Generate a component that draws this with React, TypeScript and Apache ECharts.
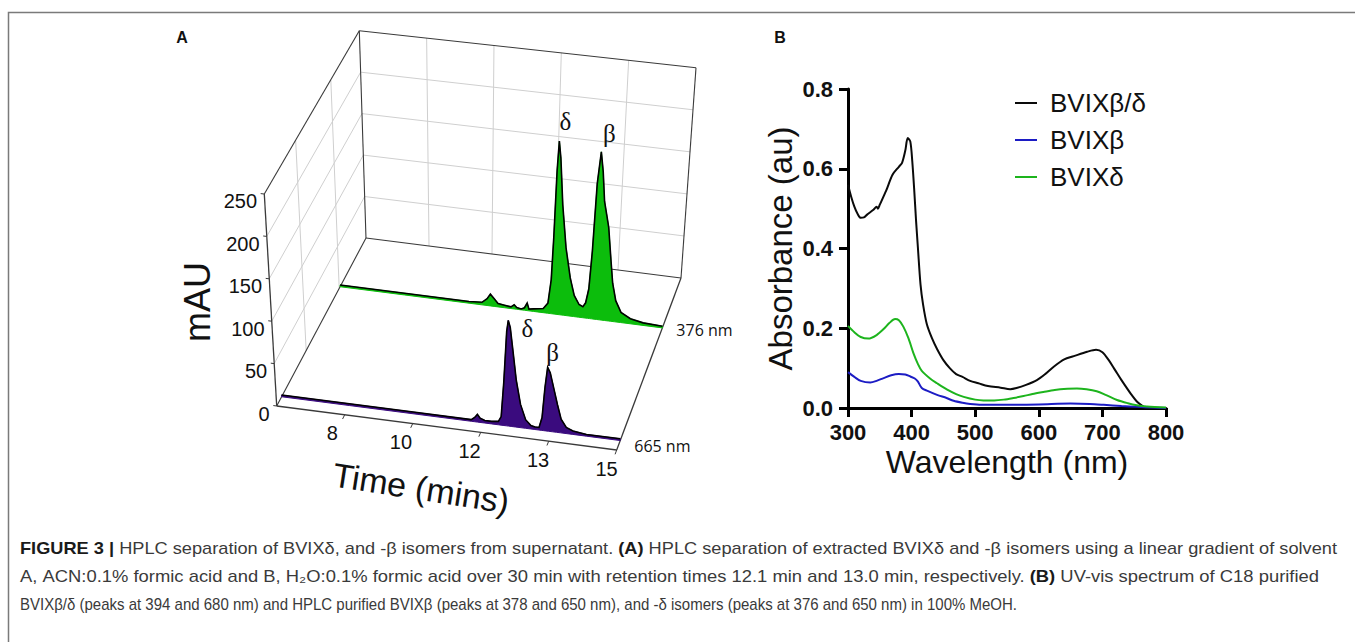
import React, { useEffect, useRef } from "react";
import * as echarts from "echarts";

// ---------------- Panel A : HPLC chromatograms (pseudo-3D) ----------------
const TIME_AXIS_STOPS = [6, 8, 10, 12, 13, 15]; // axis positions 0..5 (corner + labelled ticks)
const TIME_TICK_LABELS = ["8", "10", "12", "13", "15"];
const MAU_TICKS = [0, 50, 100, 150, 200, 250];
const MAU_MAX = 250;
const BACK_GRID_TIME_INDEX = [1, 2, 3, 4];
const LEFT_WALL_DEPTHS = [0.33, 0.7];
const TRACE_LABELS = ["376 nm", "665 nm"];
const TRACE_DEPTHS = [0.71, 0.055];
const TRACE_COLORS = ["#0cbd0c", "#3a0b7e"];

const T376_TIME = [6, 8, 10, 10.4, 10.56, 10.66, 10.78, 10.9, 11.1, 11.3, 11.4, 11.48, 11.62, 11.72, 11.8, 11.86, 12.0, 12.15, 12.22, 12.26, 12.28, 12.3, 12.32, 12.35, 12.4, 12.47, 12.55, 12.62, 12.7, 12.76, 12.8, 12.84, 12.87, 12.9, 12.94, 12.98, 13.04, 13.12, 13.2, 13.32, 13.4, 13.52, 13.7, 14.0, 14.4, 15];
const T376_MAU = [2, 2, 2, 3, 8, 14, 9, 4, 3, 2, 5, 2, 1, 3, 9, 2, 3, 5, 12, 40, 90, 170, 205, 185, 130, 80, 45, 25, 15, 13, 18, 35, 80, 160, 198, 175, 140, 125, 110, 70, 45, 25, 12, 6, 3, 2];
const T665_TIME = [6, 8, 10, 11.6, 11.7, 11.78, 11.86, 12.0, 12.1, 12.2, 12.24, 12.27, 12.3, 12.32, 12.35, 12.4, 12.45, 12.52, 12.6, 12.68, 12.74, 12.8, 12.84, 12.87, 12.9, 12.94, 13.0, 13.12, 13.24, 13.4, 13.6, 14.0, 15];
const T665_MAU = [2, 2, 2, 2, 5, 9, 5, 3, 3, 4, 10, 50, 110, 123, 115, 85, 55, 27, 10, 4, 3, 3, 15, 50, 74, 68, 50, 32, 16, 7, 4, 2, 2];

const PEAK_NAMES = ["δ", "β"];
const PEAKS_376_TIME = [12.32, 12.94];
const PEAKS_376_MAU = [205, 198];
const PEAKS_665_TIME = [12.32, 12.9];
const PEAKS_665_MAU = [123, 74];

// ---------------- Panel B : UV-vis spectra ----------------
const WL_BD = [300, 305, 310, 315, 320, 325, 330, 340, 345, 347, 350, 360, 370, 380, 385, 390, 394, 398, 401, 404, 407, 410, 414, 418, 424, 432, 440, 450, 460, 470, 480, 492, 505, 520, 540, 555, 565, 580, 597, 610, 623, 640, 655, 676, 690, 700, 710, 720, 730, 745, 755, 765, 770, 800];
const ABS_BD = [0.56, 0.53, 0.505, 0.487, 0.477, 0.478, 0.485, 0.497, 0.505, 0.5, 0.51, 0.545, 0.585, 0.605, 0.615, 0.645, 0.677, 0.668, 0.62, 0.55, 0.47, 0.4, 0.31, 0.26, 0.21, 0.175, 0.148, 0.12, 0.1, 0.085, 0.078, 0.068, 0.062, 0.055, 0.051, 0.047, 0.05, 0.058, 0.07, 0.085, 0.103, 0.122, 0.13, 0.141, 0.146, 0.14, 0.12, 0.095, 0.07, 0.035, 0.015, 0.003, 0, 0];
const WL_B = [300, 310, 320, 335, 345, 356, 368, 380, 390, 398, 405, 410, 416, 425, 440, 455, 466, 480, 492, 510, 545, 600, 650, 680, 702, 730, 754, 780, 800];
const ABS_B = [0.09, 0.078, 0.068, 0.064, 0.068, 0.075, 0.082, 0.085, 0.084, 0.079, 0.074, 0.066, 0.05, 0.043, 0.033, 0.025, 0.018, 0.013, 0.01, 0.008, 0.008, 0.009, 0.011, 0.01, 0.008, 0.005, 0.003, 0.001, 0];
const WL_D = [300, 310, 320, 332, 345, 356, 365, 374, 380, 387, 395, 403, 410, 416, 429, 440, 456, 470, 482, 500, 513, 530, 545, 560, 576, 590, 607, 625, 645, 660, 675, 691, 705, 723, 740, 754, 770, 800];
const ABS_D = [0.206, 0.19, 0.178, 0.174, 0.183, 0.198, 0.213, 0.223, 0.22, 0.204, 0.175, 0.137, 0.11, 0.093, 0.074, 0.062, 0.046, 0.035, 0.028, 0.021, 0.019, 0.019, 0.021, 0.025, 0.03, 0.035, 0.04, 0.045, 0.048, 0.049, 0.047, 0.042, 0.033, 0.02, 0.012, 0.007, 0.004, 0.001];
const LEGEND_NAMES = ["BVIXβ/δ", "BVIXβ", "BVIXδ"];
const LINE_COLORS = ["#0a0a0a", "#1c1cc4", "#1db41d"];

// ---------------- Caption ----------------
const CAPTION_LINES: { t: string; b?: boolean }[][] = [
  [
    { t: "FIGURE 3 |", b: true },
    { t: "HPLC separation of BVIXδ, and -β isomers from supernatant." },
    { t: "(A)", b: true },
    { t: "HPLC separation of extracted BVIXδ and -β isomers using a linear gradient of solvent" },
  ],
  [
    { t: "A, ACN:0.1% formic acid and B, H₂O:0.1% formic acid over 30 min with retention times 12.1 min and 13.0 min, respectively." },
    { t: "(B)", b: true },
    { t: "UV-vis spectrum of C18 purified" },
  ],
  [{ t: "BVIXβ/δ (peaks at 394 and 680 nm) and HPLC purified BVIXβ (peaks at 378 and 650 nm), and -δ isomers (peaks at 376 and 650 nm) in 100% MeOH." }],
];
const CAPTION_RIGHT = [1337, 1319, 1017];

// ---------------- layout of the 3D box (screen corners) ----------------
const A_FLOOR = { f0: [276.7, 406], f1: [616.7, 450], b0: [366, 238], b1: [681, 278] };
const A_VERT = { f0: [-12.4, -212], f1: [11.5, -216], b0: [-6.7, -207.3], b1: [15, -210.3] };
const U_MAX = TIME_AXIS_STOPS.length - 1;

function timeToU(t: number) {
  const s = TIME_AXIS_STOPS;
  if (t <= s[0]) return (t - s[0]) / (s[1] - s[0]);
  for (let i = 0; i < s.length - 1; i++) {
    if (t <= s[i + 1]) return i + (t - s[i]) / (s[i + 1] - s[i]);
  }
  const n = s.length - 1;
  return n + (t - s[n]) / (s[n] - s[n - 1]);
}
function lerp2(a: number[], b: number[], t: number) {
  return [a[0] + (b[0] - a[0]) * t, a[1] + (b[1] - a[1]) * t];
}
function bil(c: any, fu: number, v: number) {
  return lerp2(lerp2(c.f0, c.f1, fu), lerp2(c.b0, c.b1, fu), v);
}
function project(u: number, v: number, h: number) {
  const fu = u / U_MAX;
  const fl = bil(A_FLOOR, fu, v);
  const vt = bil(A_VERT, fu, v);
  const k = h / MAU_MAX;
  return [fl[0] + vt[0] * k, fl[1] + vt[1] * k];
}
function seg(p: number[], q: number[], stroke: string, lw: number) {
  return { type: "line", shape: { x1: p[0], y1: p[1], x2: q[0], y2: q[1] }, style: { stroke, lineWidth: lw } };
}

const GRID_GREY = "#cfcfcf";
const EDGE = "#3a3a3a";
const SANS = "'Liberation Sans', Arial, sans-serif";

function traceSeries(idx: number, times: number[], maus: number[]) {
  const depth = TRACE_DEPTHS[idx];
  return {
    type: "custom",
    coordinateSystem: "none",
    silent: true,
    data: times.map((t, i) => [t, maus[i]]),
    renderItem: (params: any, api: any) => {
      if (params.dataIndexInside !== 0) return null;
      const n = params.dataInsideLength ?? times.length;
      const top: number[][] = [];
      const base: number[][] = [];
      for (let i = 0; i < n; i++) {
        const u = timeToU(api.value(0, i));
        top.push(project(u, depth, api.value(1, i)));
        base.push(project(u, depth, 0));
      }
      const poly = top.concat(base.slice().reverse());
      const last = base[base.length - 1];
      return {
        type: "group",
        children: [
          { type: "polygon", shape: { points: poly }, style: { fill: TRACE_COLORS[idx], stroke: TRACE_COLORS[idx], lineWidth: 1 } },
          { type: "polyline", shape: { points: top }, style: { stroke: "#000", lineWidth: 1.6, fill: null } },
          {
            type: "text",
            style: {
              text: TRACE_LABELS[idx],
              x: last[0] + 14,
              y: last[1] + (idx === 0 ? 2 : 5),
              fill: "#111",
              fontSize: 16,
              fontFamily: "'Open Sans', sans-serif",
              align: "left",
              verticalAlign: "middle",
            },
          },
        ],
      };
    },
  };
}

function peakSeries(idx: number, times: number[], maus: number[], offsets: number[][]) {
  const depth = TRACE_DEPTHS[idx];
  return {
    type: "custom",
    coordinateSystem: "none",
    silent: true,
    data: times.map((t, i) => [t, maus[i]]),
    renderItem: (params: any, api: any) => {
      const i = params.dataIndexInside;
      const p = project(timeToU(api.value(0)), depth, api.value(1));
      return {
        type: "text",
        style: {
          text: PEAK_NAMES[i],
          x: p[0] + offsets[i][0],
          y: p[1] + offsets[i][1],
          fill: "#111",
          fontSize: 25,
          fontFamily: "'Liberation Serif', 'Times New Roman', serif",
          align: "center",
          verticalAlign: "middle",
        },
      };
    },
  };
}

// one text element per word; each line is fitted to its measured extent in the reference
function buildCaption(size: number) {
  const ctx = document.createElement("canvas").getContext("2d")!;
  const measure = (s: string, bold?: boolean) => {
    ctx.font = `${bold ? "bold " : ""}${size}px 'Liberation Sans', Arial, sans-serif`;
    return ctx.measureText(s).width;
  };
  const spaceW = measure(" ");
  const els: any[] = [];
  CAPTION_LINES.forEach((parts, li) => {
    const words: { w: string; b?: boolean; width: number }[] = [];
    parts.forEach((p) =>
      p.t
        .split(" ")
        .filter((x) => x.length)
        .forEach((w) => words.push({ w, b: p.b, width: measure(w, p.b) }))
    );
    const natural = words.reduce((a, w) => a + w.width, 0) + spaceW * (words.length - 1);
    const s = (CAPTION_RIGHT[li] - 20) / natural;
    let x = 20;
    words.forEach((w) => {
      els.push({
        type: "text",
        x,
        y: 548 + li * 28,
        scaleX: s,
        silent: true,
        style: {
          text: w.w,
          fontSize: size,
          fontWeight: w.b ? "bold" : "normal",
          fontFamily: SANS,
          fill: w.b ? "#1a1a1a" : "#3a3a3a",
          verticalAlign: "middle",
          textVerticalAlign: "middle",
        },
      });
      x += (w.width + spaceW) * s;
    });
  });
  return els;
}

export default function App() {
  const ref = useRef<HTMLDivElement>(null);
  useEffect(() => {
    if (!ref.current) return;
    const chart = echarts.init(ref.current, undefined, { renderer: "svg" });

    const captionEls = buildCaption(16);

    const option: any = {
      animation: false,
      backgroundColor: "#ffffff",
      grid: { left: 848, top: 89, width: 318, height: 319, containLabel: false },
      xAxis: {
        type: "value",
        min: 300,
        max: 800,
        interval: 100,
        name: "Wavelength (nm)",
        nameLocation: "middle",
        nameGap: 38,
        nameTextStyle: { fontSize: 32, fontFamily: SANS, color: "#111" },
        axisLine: { show: true, onZero: false, lineStyle: { color: "#000", width: 3 } },
        axisTick: { show: true, length: 9, lineStyle: { color: "#000", width: 3 } },
        axisLabel: { fontSize: 22, fontWeight: "bold", fontFamily: SANS, color: "#111", margin: 13 },
        splitLine: { show: false },
      },
      yAxis: {
        type: "value",
        min: 0,
        max: 0.8,
        interval: 0.2,
        name: "Absorbance (au)",
        nameLocation: "middle",
        nameGap: 51,
        nameTextStyle: { fontSize: 33, fontFamily: SANS, color: "#111" },
        axisLine: { show: true, onZero: false, lineStyle: { color: "#000", width: 3 } },
        axisTick: { show: true, length: 9, lineStyle: { color: "#000", width: 3 } },
        axisLabel: {
          fontSize: 22,
          fontWeight: "bold",
          fontFamily: SANS,
          color: "#111",
          margin: 15,
          formatter: (v: number) => v.toFixed(1),
        },
        splitLine: { show: false },
      },
      legend: {
        data: LEGEND_NAMES,
        orient: "vertical",
        left: 1010,
        top: 83,
        itemWidth: 22,
        itemHeight: 2,
        itemGap: 7,
        icon: "rect",
        textStyle: { fontSize: 26, fontFamily: SANS, color: "#111", lineHeight: 30, padding: [0, 0, 0, 8] },
      },
      graphic: [
        { type: "polyline", silent: true, shape: { points: [[8.5, 642], [8.5, 12.5], [1355, 12.5]] }, style: { stroke: "#7a7a7a", lineWidth: 1.5, fill: null } },
        { type: "text", x: 182, y: 37, silent: true, style: { text: "A", fontSize: 16, fontWeight: "bold", fontFamily: SANS, fill: "#111", align: "center", verticalAlign: "middle", textAlign: "center", textVerticalAlign: "middle" } },
        { type: "text", x: 780, y: 37, silent: true, style: { text: "B", fontSize: 16, fontWeight: "bold", fontFamily: SANS, fill: "#111", align: "center", verticalAlign: "middle", textAlign: "center", textVerticalAlign: "middle" } },
        { type: "text", x: 197, y: 302, rotation: Math.PI / 2, silent: true, style: { text: "mAU", fontSize: 36, fontFamily: SANS, fill: "#111", align: "center", verticalAlign: "middle", textAlign: "center", textVerticalAlign: "middle" } },
        { type: "text", x: 421, y: 488, rotation: -0.155, silent: true, style: { text: "Time (mins)", fontSize: 34, fontFamily: SANS, fill: "#111", align: "center", verticalAlign: "middle", textAlign: "center", textVerticalAlign: "middle" } },
        ...captionEls,
      ],
      series: [
        {
          type: "custom",
          coordinateSystem: "none",
          silent: true,
          data: BACK_GRID_TIME_INDEX.map((u) => [u]),
          renderItem: (_p: any, api: any) => {
            const u = api.value(0);
            return seg(project(u, 1, 0), project(u, 1, MAU_MAX), GRID_GREY, 1);
          },
        },
        {
          type: "custom",
          coordinateSystem: "none",
          silent: true,
          data: LEFT_WALL_DEPTHS.map((v) => [v]),
          renderItem: (_p: any, api: any) => {
            const v = api.value(0);
            return seg(project(0, v, 0), project(0, v, MAU_MAX), GRID_GREY, 1);
          },
        },
        {
          type: "custom",
          coordinateSystem: "none",
          silent: true,
          data: MAU_TICKS.map((h) => [h]),
          renderItem: (_p: any, api: any) => {
            const h = api.value(0);
            const children: any[] = [];
            if (h > 0 && h < MAU_MAX) {
              children.push(seg(project(0, 1, h), project(U_MAX, 1, h), GRID_GREY, 1));
              children.push(seg(project(0, 0, h), project(0, 1, h), GRID_GREY, 1));
            }
            children.push(seg(project(0, 0, h), project(-0.05, 0, h), EDGE, 1));
            const lp = project(0, -0.045, h);
            children.push({
              type: "text",
              style: { text: String(h), x: lp[0] - 3, y: lp[1], fill: "#111", fontSize: 20, fontFamily: SANS, align: "right", verticalAlign: "middle" },
            });
            return { type: "group", children };
          },
        },
        {
          type: "custom",
          coordinateSystem: "none",
          silent: true,
          data: [[0]],
          renderItem: () => {
            const F0 = project(0, 0, 0), F5 = project(U_MAX, 0, 0), B0 = project(0, 1, 0), B5 = project(U_MAX, 1, 0);
            const FT0 = project(0, 0, MAU_MAX), BT0 = project(0, 1, MAU_MAX), BT5 = project(U_MAX, 1, MAU_MAX);
            return {
              type: "group",
              children: [
                seg(B0, B5, EDGE, 1.1),
                seg(BT0, B0, EDGE, 1.1),
                seg(BT5, B5, EDGE, 1.1),
                seg(BT0, BT5, EDGE, 1.1),
                seg(FT0, BT0, EDGE, 1.1),
                seg(F0, B0, EDGE, 1.1),
                seg(F5, B5, EDGE, 1.3),
                seg(F0, F5, EDGE, 1.3),
                seg(F0, FT0, EDGE, 1.3),
              ],
            };
          },
        },
        {
          type: "custom",
          coordinateSystem: "none",
          silent: true,
          data: TIME_TICK_LABELS.map((_l, i) => [i + 1]),
          renderItem: (p: any, api: any) => {
            const u = api.value(0);
            const a = project(u, 0, 0);
            const b = project(u, -0.025, 0);
            const lp = project(u, -0.11, 0);
            return {
              type: "group",
              children: [
                seg(a, b, EDGE, 1),
                {
                  type: "text",
                  style: { text: TIME_TICK_LABELS[p.dataIndexInside], x: lp[0] - 3, y: lp[1], fill: "#111", fontSize: 20, fontFamily: SANS, align: "center", verticalAlign: "middle" },
                },
              ],
            };
          },
        },
        traceSeries(0, T376_TIME, T376_MAU),
        traceSeries(1, T665_TIME, T665_MAU),
        peakSeries(0, PEAKS_376_TIME, PEAKS_376_MAU, [[6, -20], [8, -18]]),
        peakSeries(1, PEAKS_665_TIME, PEAKS_665_MAU, [[19, 8], [5, -15]]),
        {
          name: LEGEND_NAMES[0],
          type: "line",
          data: WL_BD.map((w, i) => [w, ABS_BD[i]]),
          showSymbol: false,
          smooth: 0.3,
          lineStyle: { color: LINE_COLORS[0], width: 2 },
          itemStyle: { color: LINE_COLORS[0] },
        },
        {
          name: LEGEND_NAMES[1],
          type: "line",
          data: WL_B.map((w, i) => [w, ABS_B[i]]),
          showSymbol: false,
          smooth: 0.3,
          lineStyle: { color: LINE_COLORS[1], width: 2 },
          itemStyle: { color: LINE_COLORS[1] },
        },
        {
          name: LEGEND_NAMES[2],
          type: "line",
          data: WL_D.map((w, i) => [w, ABS_D[i]]),
          showSymbol: false,
          smooth: 0.3,
          lineStyle: { color: LINE_COLORS[2], width: 2 },
          itemStyle: { color: LINE_COLORS[2] },
        },
      ],
    };
    chart.setOption(option);
    return () => chart.dispose();
  }, []);
  return <div ref={ref} style={{ position: "absolute", left: 0, top: 0, width: 1355, height: 642, background: "#fff" }} />;
}
